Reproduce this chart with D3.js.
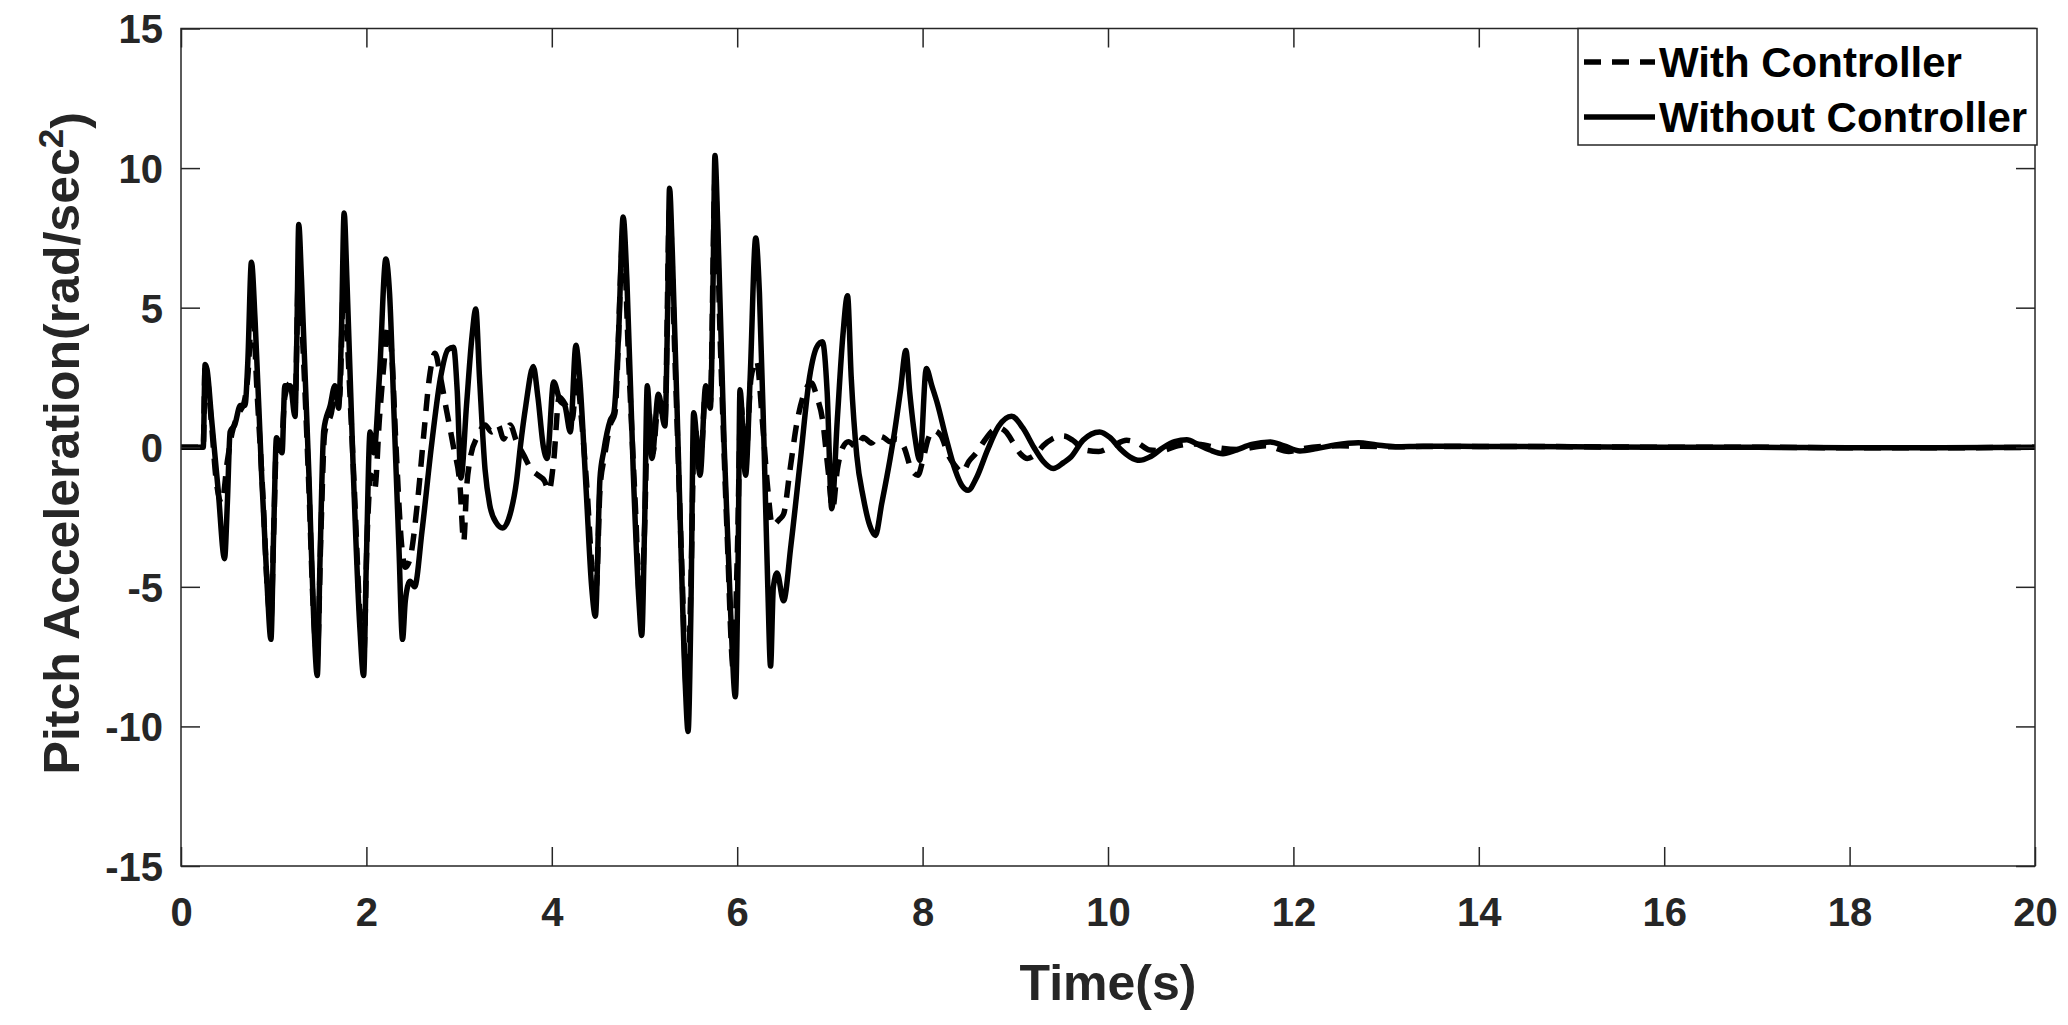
<!DOCTYPE html>
<html><head><meta charset="utf-8">
<script src="https://cdn.jsdelivr.net/npm/d3@7"></script>
<style>body{margin:0;background:#fff} svg{display:block}</style>
</head><body><svg id="c" width="2068" height="1025"></svg>
<script>
// ---- data ----
const timeWithout = [0,0.24,0.26,0.28,0.33,0.40,0.47,0.50,0.53,0.58,0.64,0.69,0.72,0.76,0.80,0.87,0.93,0.97,1.00,1.03,1.09,1.12,1.18,1.23,1.25,1.27,1.30,1.38,1.43,1.47,1.50,1.54,1.61,1.66,1.70,1.73,1.76,1.79,1.86,1.93,1.97,2.00,2.04,2.08,2.14,2.21,2.25,2.30,2.35,2.39,2.42,2.47,2.52,2.60,2.70,2.80,2.88,2.94,2.98,3.02,3.08,3.14,3.18,3.22,3.28,3.33,3.40,3.47,3.55,3.62,3.66,3.72,3.80,3.85,3.91,3.95,4.02,4.09,4.14,4.20,4.26,4.30,4.37,4.43,4.47,4.52,4.56,4.63,4.67,4.72,4.77,4.81,4.88,4.94,4.97,5.00,5.03,5.08,5.15,5.22,5.25,5.27,5.30,5.38,5.44,5.47,5.50,5.53,5.60,5.66,5.71,5.74,5.76,5.79,5.86,5.93,5.98,6.01,6.03,6.09,6.14,6.20,6.24,6.29,6.33,6.36,6.39,6.43,6.50,6.58,6.68,6.78,6.86,6.92,6.97,7.02,7.08,7.14,7.19,7.23,7.29,7.36,7.43,7.49,7.56,7.65,7.70,7.76,7.82,7.86,7.92,7.97,8.04,8.10,8.16,8.25,8.35,8.42,8.49,8.58,8.70,8.82,8.96,9.08,9.20,9.30,9.41,9.52,9.60,9.73,9.91,10.02,10.13,10.24,10.34,10.45,10.60,10.72,10.85,10.97,11.10,11.24,11.38,11.55,11.75,11.90,12.07,12.25,12.45,12.70,12.90,13.10,13.40,14,15,16,17,18,19,20];
const accelWithout = [0,0,2.96,2.8,1.0,-1.5,-3.99,-2.0,0.55,0.8,1.5,1.5,3.0,6.63,4.5,-1.0,-5.0,-6.88,-3.0,0.34,-0.2,2.2,2.2,1.1,4.0,7.98,6.0,-1.0,-6.0,-8.18,-4.0,0.6,1.5,2.2,1.4,4.0,8.39,6.0,-1.0,-6.5,-8.18,-4.0,0.55,-0.2,2.5,6.74,5.5,1.0,-3.5,-6.88,-5.5,-4.8,-5.0,-3.0,0.0,2.5,3.5,3.58,2.0,-1.1,1.5,4.0,4.95,2.5,-0.8,-2.06,-2.7,-2.89,-2.4,-1.2,0,1.5,2.89,1.8,0,-0.4,2.34,1.65,1.5,0.55,3.65,2.5,-1.5,-5.0,-6.05,-1.1,-0.14,0.96,1.24,4.0,8.25,6.0,-1.0,-5.5,-6.74,-3.0,2.2,-0.4,1.9,0.76,5.0,9.28,7.0,-2.0,-8.5,-10.18,-6.0,1.24,-1.0,2.2,1.4,6.0,10.45,8.0,0,-6.0,-8.94,-4.0,2.06,-1.0,2.5,7.5,5.5,0,-5.0,-7.84,-5.0,-4.5,-5.5,-3.5,-0.5,2.5,3.6,3.78,2.0,-2.2,1.0,4.0,5.43,2.5,-0.3,-1.8,-2.8,-3.16,-2.0,-0.4,0.6,2.0,3.47,2.0,0.3,-0.47,2.82,2.2,1.56,0.37,-0.8,-1.35,-1.54,-1.1,-0.1,0.75,1.11,0.7,0.0,-0.5,-0.76,-0.55,-0.35,0.25,0.55,0.35,-0.05,-0.35,-0.47,-0.35,0.0,0.2,0.27,0.1,-0.1,-0.23,-0.1,0.1,0.19,0.05,-0.13,-0.05,0.08,0.16,0.08,0.02,0.04,0.03,0.02,0.0,0.0,-0.02,-0.02,0.0];

const timeWith = [0,0.24,0.26,0.28,0.33,0.38,0.44,0.50,0.55,0.62,0.68,0.72,0.77,0.82,0.88,0.94,0.97,1.00,1.03,1.08,1.12,1.18,1.23,1.27,1.31,1.38,1.43,1.47,1.51,1.55,1.62,1.67,1.71,1.76,1.80,1.87,1.93,1.97,2.01,2.05,2.09,2.14,2.19,2.23,2.27,2.32,2.38,2.42,2.47,2.55,2.62,2.68,2.74,2.80,2.86,2.94,3.01,3.05,3.08,3.12,3.20,3.28,3.35,3.42,3.48,3.55,3.62,3.70,3.78,3.85,3.92,3.97,4.02,4.08,4.15,4.22,4.27,4.32,4.38,4.44,4.48,4.52,4.57,4.63,4.68,4.77,4.83,4.90,4.96,5.00,5.04,5.09,5.15,5.22,5.27,5.33,5.40,5.46,5.50,5.54,5.60,5.66,5.71,5.76,5.82,5.89,5.96,6.00,6.04,6.09,6.15,6.21,6.27,6.33,6.38,6.45,6.50,6.57,6.64,6.73,6.80,6.86,6.92,6.98,7.03,7.08,7.14,7.20,7.29,7.36,7.45,7.52,7.58,7.65,7.72,7.80,7.88,7.95,8.00,8.06,8.12,8.20,8.28,8.36,8.43,8.50,8.58,8.66,8.74,8.82,8.90,8.98,9.06,9.13,9.22,9.30,9.40,9.52,9.62,9.75,9.90,10.05,10.20,10.32,10.45,10.58,10.75,10.95,11.15,11.40,11.70,11.95,12.10,12.50,13,14,15,16,17,18,19,20];
const accelWith = [0,0,2.9,2.6,0.8,-1.2,-2.0,-0.5,0.5,1.2,1.6,2.5,5.0,2.0,-1.5,-5.5,-6.2,-3.0,0.0,0.0,1.8,2.3,1.5,6.5,4.0,-1.5,-6.0,-7.5,-3.0,0.5,1.2,2.0,1.8,6.5,3.5,-1.5,-6.0,-7.5,-3.0,-1.0,-1.5,1.0,3.0,4.3,3.5,0.0,-3.5,-4.3,-4.0,-2.0,0.5,2.5,3.37,2.5,1.4,0.0,-1.4,-3.37,-1.5,-0.4,0.4,0.8,0.55,0.8,0.3,0.8,0.2,-0.3,-0.8,-1.0,-1.2,-1.55,-0.5,1.8,1.5,1.0,2.5,1.0,-1.5,-4.5,-5.0,-1.5,-0.3,0.8,1.2,7.5,3.0,-2.0,-6.0,-3.0,1.5,-0.2,1.6,0.9,8.5,3.0,-4.0,-9.0,-5.0,0.8,-0.7,2.0,1.6,9.5,3.5,-3.0,-8.0,-4.0,1.5,-0.5,2.5,3.1,1.0,-1.5,-2.8,-2.6,-2.4,-0.8,0.8,2.0,2.3,1.8,1.0,-0.8,-2.2,-0.8,0.0,0.2,0.0,0.35,0.15,0.4,0.35,0.2,0.3,0.0,-0.8,-1.0,-0.5,0.3,0.6,0.4,-0.3,-0.7,-0.9,-0.5,-0.2,0.2,0.55,0.7,0.55,0.15,-0.25,-0.4,-0.25,0.05,0.3,0.4,0.25,-0.1,-0.15,0.05,0.25,0.15,-0.1,-0.12,0.05,0.12,0.0,-0.08,0.05,-0.15,-0.05,0.05,0.02,0.03,0.02,0.0,0.0,-0.02,-0.02,0.0];

const xTicks = [0,2,4,6,8,10,12,14,16,18,20];
const yTicks = [-15,-10,-5,0,5,10,15];
const legendLabels = ["With Controller","Without Controller"];
const xLabel = "Time(s)";
const yLabelMain = "Pitch Acceleration(rad/sec";
const yLabelSup = "2";
const yLabelEnd = ")";

// ---- layout ----
const L = 181, R = 2035, T = 28.5, B = 866;
const FONT = "'Liberation Sans', Arial, Helvetica, sans-serif";
const AX = "#262626";
const svg = d3.select("#c");
const x = d3.scaleLinear().domain([0,20]).range([L,R]);
const y = d3.scaleLinear().domain([-15,15]).range([B,T]);
const TL = 19;

svg.append("rect").attr("width",2068).attr("height",1025).attr("fill","#fff");

svg.append("clipPath").attr("id","clip").append("rect")
  .attr("x",L).attr("y",T).attr("width",R-L).attr("height",B-T);

const line = d3.line().x(d=>x(d[0])).y(d=>y(d[1])).curve(d3.curveMonotoneX);
const withData = timeWith.map((t,i)=>[t,accelWith[i]]);
const withoutData = timeWithout.map((t,i)=>[t,accelWithout[i]]);

const plot = svg.append("g").attr("clip-path","url(#clip)");
plot.append("path").datum(withData).attr("d",line)
  .attr("fill","none").attr("stroke","#000").attr("stroke-width",5.5)
  .attr("stroke-dasharray","17,11").attr("stroke-linejoin","round");
plot.append("path").datum(withoutData).attr("d",line)
  .attr("fill","none").attr("stroke","#000").attr("stroke-width",5.5)
  .attr("stroke-linejoin","round");

function styleAxis(g){
  g.select(".domain").remove();
  g.selectAll(".tick line").attr("stroke",AX).attr("stroke-width",1.5);
  g.selectAll("text").attr("fill",AX).style("font-family",FONT)
    .style("font-weight","bold").style("font-size","40px");
}
svg.append("g").attr("transform",`translate(0,${B})`)
  .call(d3.axisBottom(x).tickValues(xTicks).tickSize(-TL).tickSizeOuter(0).tickFormat(d3.format("d")))
  .call(styleAxis)
  .call(g=>g.selectAll("text").attr("y",60).attr("dy",null));
svg.append("g").attr("transform",`translate(0,${T})`)
  .call(d3.axisTop(x).tickValues(xTicks).tickSize(-TL).tickSizeOuter(0).tickFormat(""))
  .call(styleAxis);
svg.append("g").attr("transform",`translate(${L},0)`)
  .call(d3.axisLeft(y).tickValues(yTicks).tickSize(-TL).tickSizeOuter(0).tickFormat(d=>d<0?"-"+Math.abs(d):String(d)))
  .call(styleAxis)
  .call(g=>g.selectAll("text").attr("x",-18).attr("dy","0.36em"));
svg.append("g").attr("transform",`translate(${R},0)`)
  .call(d3.axisRight(y).tickValues(yTicks).tickSize(-TL).tickSizeOuter(0).tickFormat(""))
  .call(styleAxis);

svg.append("rect").attr("x",L).attr("y",T).attr("width",R-L).attr("height",B-T)
  .attr("fill","none").attr("stroke",AX).attr("stroke-width",1.5);

svg.append("text").attr("x",(L+R)/2).attr("y",1000).attr("text-anchor","middle")
  .attr("fill",AX).style("font-family",FONT).style("font-weight","bold").style("font-size","50px")
  .text(xLabel);
const yl = svg.append("text").attr("transform",`translate(79,${(T+B)/2 - 4}) rotate(-90)`)
  .attr("text-anchor","middle").attr("fill",AX)
  .style("font-family",FONT).style("font-weight","bold").style("font-size","50px");
yl.append("tspan").text(yLabelMain);
yl.append("tspan").attr("dy","-0.45em").style("font-size","35px").text(yLabelSup);
yl.append("tspan").attr("dy","0.45em").text(yLabelEnd);

const lgX = 1578, lgY = T, lgW = 2037-1578, lgH = 145-T;
svg.append("rect").attr("x",lgX).attr("y",lgY).attr("width",lgW).attr("height",lgH)
  .attr("fill","#fff").attr("stroke",AX).attr("stroke-width",1.5);
const rows = [62,117];
legendLabels.forEach((lab,i)=>{
  svg.append("line").attr("x1",1584).attr("x2",1655).attr("y1",rows[i]).attr("y2",rows[i])
    .attr("stroke","#000").attr("stroke-width",5.5)
    .attr("stroke-dasharray", i===0 ? "17,11" : null);
  svg.append("text").attr("x",1659).attr("y",rows[i]).attr("dy","0.36em")
    .attr("fill","#000").style("font-family",FONT).style("font-weight","bold").style("font-size","42px")
    .text(lab);
});
</script></body></html>
